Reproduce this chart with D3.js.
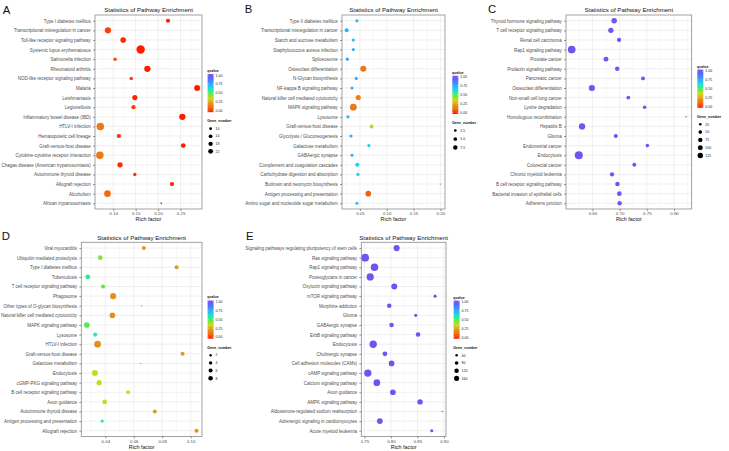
<!DOCTYPE html>
<html><head><meta charset="utf-8">
<script src="https://cdn.jsdelivr.net/npm/d3@7"></script>
<style>body{margin:0;background:#fff;} svg{display:block;font-family:"Liberation Sans",Arial,sans-serif;}</style>
</head><body><svg id="c" width="729" height="451"></svg>
<script>
// ---------------- DATA ----------------
const pathA = ["Type I diabetes mellitus","Transcriptional misregulation in cancer","Toll-like receptor signaling pathway","Systemic lupus erythematosus","Salmonella infection","Rheumatoid arthritis","NOD-like receptor signaling pathway","Malaria","Leishmaniasis","Legionellosis","Inflammatory bowel disease (IBD)","HTLV-I infection","Hematopoietic cell lineage","Graft-versus-host disease","Cytokine-cytokine receptor interaction","Chagas disease (American trypanosomiasis)","Autoimmune thyroid disease","Allograft rejection","Alcoholism","African trypanosomiasis"];
const richA = [0.222,0.088,0.122,0.161,0.104,0.176,0.140,0.287,0.148,0.145,0.254,0.071,0.1125,0.256,0.070,0.115,0.148,0.231,0.087,0.207];
const qA = [0.01,0.06,0.02,0.00,0.08,0.00,0.05,0.00,0.02,0.05,0.00,0.16,0.03,0.01,0.16,0.02,0.04,0.02,0.12,0.05];
const geneA = [10,15,13,23,9,15,9,14,12,10,15,19,10,11,19,12,9,10,16,8];
const ticksA = [0.10,0.15,0.20,0.25];
const sizeBreaksA = [10,14,18,22];

const pathB = ["Type II diabetes mellitus","Transcriptional misregulation in cancer","Starch and sucrose metabolism","Staphylococcus aureus infection","Spliceosome","Osteoclast differentiation","N-Glycan biosynthesis","NF-kappa B signaling pathway","Natural killer cell mediated cytotoxicity","MAPK signaling pathway","Lysosome","Graft-versus-host disease","Glycolysis / Gluconeogenesis","Galactose metabolism","GABAergic synapse","Complement and coagulation cascades","Carbohydrate digestion and absorption","Butirosin and neomycin biosynthesis","Antigen processing and presentation","Amino sugar and nucleotide sugar metabolism"];
const richB = [0.0444,0.0253,0.0377,0.0377,0.0265,0.0563,0.0432,0.0352,0.0469,0.0377,0.0277,0.0717,0.0333,0.0667,0.0352,0.0451,0.0463,0.200,0.0656,0.0445];
const qB = [0.72,0.72,0.70,0.70,0.75,0.16,0.72,0.72,0.18,0.16,0.72,0.40,0.72,0.65,0.70,0.65,0.65,0.90,0.10,0.68];
const geneB = [2,3,2,2,2,7,2,2,5,9,2,3,2,2,2,3,2,1,6,2];
const ticksB = [0.05,0.10,0.15,0.20];
const sizeBreaksB = [2.5,5.0,7.5];

const pathC = ["Thyroid hormone signaling pathway","T cell receptor signaling pathway","Renal cell carcinoma","Rap1 signaling pathway","Prostate cancer","Prolactin signaling pathway","Pancreatic cancer","Osteoclast differentiation","Non-small cell lung cancer","Lysine degradation","Homologous recombination","Hepatitis B","Glioma","Endometrial cancer","Endocytosis","Colorectal cancer","Chronic myeloid leukemia","B cell receptor signaling pathway","Bacterial invasion of epithelial cells","Adherens junction"];
const richC = [0.690,0.684,0.699,0.612,0.675,0.6956,0.743,0.649,0.716,0.746,0.822,0.631,0.693,0.751,0.625,0.727,0.686,0.696,0.6995,0.700];
const qC = [0.98,0.98,0.98,0.98,0.98,0.98,0.98,0.98,0.98,0.98,0.98,0.98,0.98,0.98,0.98,0.98,0.98,0.98,0.98,0.98];
const geneC = [60,55,35,125,45,38,30,75,28,25,12,80,32,25,135,30,35,38,42,38];
const ticksC = [0.65,0.70,0.75,0.80];
const sizeBreaksC = [25,50,75,100,125];

const pathD = ["Viral myocarditis","Ubiquitin mediated proteolysis","Type I diabetes mellitus","Tuberculosis","T cell receptor signaling pathway","Phagosome","Other types of O-glycan biosynthesis","Natural killer cell mediated cytotoxicity","MAPK signaling pathway","Lysosome","HTLV-I infection","Graft-versus-host disease","Galactose metabolism","Endocytosis","cGMP-PKG signaling pathway","B cell receptor signaling pathway","Axon guidance","Autoimmune thyroid disease","Antigen processing and presentation","Allograft rejection"];
const richD = [0.0671,0.0365,0.0901,0.0277,0.0384,0.0455,0.0655,0.045,0.027,0.0329,0.0346,0.0943,0.0648,0.0327,0.0357,0.056,0.0396,0.0748,0.0378,0.1041];
const qD = [0.25,0.45,0.25,0.55,0.48,0.22,0.62,0.22,0.50,0.57,0.22,0.25,0.60,0.38,0.38,0.36,0.38,0.25,0.55,0.23];
const geneD = [3,4,3,4,3,7,1,6,6,3,9,3,1,7,5,3,4,3,2,3];
const ticksD = [0.04,0.06,0.08,0.10];
const sizeBreaksD = [2,4,6,8];

const pathE = ["Signaling pathways regulating pluripotency of stem cells","Ras signaling pathway","Rap1 signaling pathway","Proteoglycans in cancer","Oxytocin signaling pathway","mTOR signaling pathway","Morphine addiction","Glioma","GABAergic synapse","ErbB signaling pathway","Endocytosis","Cholinergic synapse","Cell adhesion molecules (CAMs)","cAMP signaling pathway","Calcium signaling pathway","Axon guidance","AMPK signaling pathway","Aldosterone-regulated sodium reabsorption","Adrenergic signaling in cardiomyocytes","Acute myeloid leukemia"];
const richE = [0.8107,0.7513,0.769,0.7608,0.8063,0.8834,0.7968,0.8468,0.8012,0.8512,0.7665,0.7886,0.8012,0.7563,0.7734,0.8037,0.855,0.8967,0.779,0.8771];
const qE = [0.98,0.98,0.98,0.98,0.98,0.98,0.98,0.98,0.98,0.98,0.98,0.98,0.98,0.98,0.98,0.98,0.98,0.98,0.98,0.98];
const geneE = [105,170,155,145,100,35,60,35,60,60,150,65,90,150,125,90,80,25,95,35];
const ticksE = [0.75,0.80,0.85,0.90];
const sizeBreaksE = [40,80,120,160];

const qBreaks = [1.00,0.75,0.50,0.25,0.00];
const titleText = "Statistics of Pathway Enrichment";

// ---------------- LAYOUT ----------------
const panels = [
  {letter:"A", lx:2.7, ly:14, path:pathA, rich:richA, q:qA, gene:geneA, ticks:ticksA, sb:sizeBreaksA,
   box:{x0:95,x1:202,y0:15,y1:209}, leg:{x:207.3,t:70.7,sp:7.55}, r:[0.9,4.2], rl:[0.7,2.5]},
  {letter:"B", lx:244.8, ly:13.3, path:pathB, rich:richB, q:qB, gene:geneB, ticks:ticksB, sb:sizeBreaksB,
   box:{x0:342,x1:445,y0:15,y1:209}, leg:{x:452,t:72.5,sp:8.5}, r:[0.6,3.4], rl:[0.5,2.4]},
  {letter:"C", lx:488, ly:13.3, path:pathC, rich:richC, q:qC, gene:geneC, ticks:ticksC, sb:sizeBreaksC,
   box:{x0:566,x1:691.7,y0:15,y1:209}, leg:{x:697,t:66.3,sp:7.8}, r:[0.7,4.0], rl:[0.6,2.8]},
  {letter:"D", lx:1.8, ly:239.7, path:pathD, rich:richD, q:qD, gene:geneD, ticks:ticksD, sb:sizeBreaksD,
   box:{x0:81.3,x1:202,y0:242.3,y1:436.5}, leg:{x:207.3,t:297.2,sp:7.7}, r:[0.7,3.4], rl:[0.6,2.4]},
  {letter:"E", lx:246, ly:239.7, path:pathE, rich:richE, q:qE, gene:geneE, ticks:ticksE, sb:sizeBreaksE,
   box:{x0:361.3,x1:446,y0:242.3,y1:436.5}, leg:{x:453.3,t:297.3,sp:7.7}, r:[0.7,3.9], rl:[0.6,2.6]}
];

const qStops = [0,0.12,0.25,0.36,0.48,0.6,0.75,0.9,1];
const qColors = ["#ff1a00","#f26b12","#e39a1c","#d8d81e","#62ea3c","#12ead2","#35a2ff","#5868ff","#7450ee"];
const color = d3.scaleLinear().domain(qStops).range(qColors).clamp(true);

const svg = d3.select("#c");
const defs = svg.append("defs");
const grad = defs.append("linearGradient").attr("id","qgrad").attr("x1",0).attr("y1",1).attr("x2",0).attr("y2",0);
d3.range(0,1.0001,0.05).forEach(v=>grad.append("stop").attr("offset",v).attr("stop-color",color(v)));

const fmt = d3.format(".2f");

panels.forEach((p,pi)=>{
  const b = p.box;
  const g = svg.append("g");
  const ext = d3.extent(p.rich);
  const span = ext[1]-ext[0];
  const x = d3.scaleLinear().domain([ext[0]-0.05*span, ext[1]+0.05*span]).range([b.x0,b.x1]);
  const y = d3.scalePoint().domain(p.path).range([b.y0,b.y1]).padding(0.6);
  const gmin = d3.min(p.gene), gmax = d3.max(p.gene);
  const rs = d3.scalePow().exponent(0.5).domain([0,gmax-gmin]).range(p.r);
  const rl = d3.scalePow().exponent(0.5).domain([0,gmax-gmin]).range(p.rl);

  svg.append("text").attr("x",p.lx).attr("y",p.ly).attr("font-size",11.3).attr("fill","#111").text(p.letter);
  g.append("text").attr("x",(b.x0+b.x1)/2).attr("y",b.y0-2.6).attr("text-anchor","middle")
    .attr("font-size",6.1).attr("fill","#111").text(titleText);

  g.append("rect").attr("x",b.x0).attr("y",b.y0).attr("width",b.x1-b.x0).attr("height",b.y1-b.y0).attr("fill","#fff");
  const step = p.ticks[1]-p.ticks[0];
  const minor = [];
  for (let v = p.ticks[0]-step/2; v <= x.domain()[1]; v += step) if (v >= x.domain()[0]) minor.push(v);
  g.selectAll(".mn").data(minor).join("line").attr("x1",d=>x(d)).attr("x2",d=>x(d)).attr("y1",b.y0).attr("y2",b.y1)
    .attr("stroke","#f3f3f3").attr("stroke-width",0.5);
  g.selectAll(".mj").data(p.ticks).join("line").attr("x1",d=>x(d)).attr("x2",d=>x(d)).attr("y1",b.y0).attr("y2",b.y1)
    .attr("stroke","#e6e6e6").attr("stroke-width",0.6);
  g.selectAll(".hg").data(p.path).join("line").attr("x1",b.x0).attr("x2",b.x1).attr("y1",d=>y(d)).attr("y2",d=>y(d))
    .attr("stroke","#e6e6e6").attr("stroke-width",0.6);

  const data = p.path.map((n,i)=>({n, r:p.rich[i], q:p.q[i], g:p.gene[i]}));
  g.selectAll(".pt").data(data).join("circle")
    .attr("cx",d=>x(d.r)).attr("cy",d=>y(d.n)).attr("r",d=>rs(d.g-gmin)).attr("fill",d=>color(d.q));

  g.append("rect").attr("x",b.x0).attr("y",b.y0).attr("width",b.x1-b.x0).attr("height",b.y1-b.y0)
    .attr("fill","none").attr("stroke","#8c8c8c").attr("stroke-width",0.8);

  const ax = g.append("g").attr("transform",`translate(0,${b.y1})`)
    .call(d3.axisBottom(x).tickValues(p.ticks).tickFormat(fmt).tickSize(2).tickPadding(1.2));
  ax.select(".domain").remove();
  ax.selectAll("line").attr("stroke","#333").attr("stroke-width",0.5);
  ax.selectAll("text").attr("font-size",4.4).attr("fill","#4d4d4d").attr("font-family",null);
  const ay = g.append("g").attr("transform",`translate(${b.x0},0)`)
    .call(d3.axisLeft(y).tickSize(2).tickPadding(2.2));
  ay.select(".domain").remove();
  ay.selectAll("line").attr("stroke","#333").attr("stroke-width",0.5);
  ay.selectAll("text").attr("font-size",4.5).attr("fill","#4d4d4d").attr("font-family",null);

  g.append("text").attr("x",(b.x0+b.x1)/2).attr("y",b.y1+12.4).attr("text-anchor","middle")
    .attr("font-size",5.4).attr("fill","#111").text("Rich factor");

  const L = p.leg;
  g.append("text").attr("x",L.x).attr("y",L.t+1.2).attr("font-size",3.6).attr("font-weight","bold").attr("fill","#111").text("qvalue");
  const barTop = L.t+3.3, barBot = L.t+41.5;
  g.append("rect").attr("x",L.x+0.3).attr("y",barTop).attr("width",6).attr("height",barBot-barTop).attr("fill","url(#qgrad)");
  const qy = d3.scaleLinear().domain([0,1]).range([barBot-1.5,barTop+1.3]);
  qBreaks.forEach(v=>{
    g.append("line").attr("x1",L.x+0.3).attr("x2",L.x+1.5).attr("y1",qy(v)).attr("y2",qy(v)).attr("stroke","#fff").attr("stroke-width",0.4);
    g.append("line").attr("x1",L.x+5.1).attr("x2",L.x+6.3).attr("y1",qy(v)).attr("y2",qy(v)).attr("stroke","#fff").attr("stroke-width",0.4);
    g.append("text").attr("x",L.x+8.3).attr("y",qy(v)+1.2).attr("font-size",3.5).attr("fill","#222").text(fmt(v));
  });
  g.append("text").attr("x",L.x).attr("y",L.t+51.5).attr("font-size",3.6).attr("font-weight","bold").attr("fill","#111").text("Gene_number");
  p.sb.forEach((v,i)=>{
    const cy = L.t+58+i*L.sp;
    g.append("circle").attr("cx",L.x+3.3).attr("cy",cy).attr("r",rl(Math.max(0,v-gmin))).attr("fill","#000");
    g.append("text").attr("x",L.x+8.3).attr("y",cy+1.2).attr("font-size",3.5).attr("fill","#222").text(p.sb[i] % 1 === 0 && p.sb.some(s=>s%1!==0) ? d3.format(".1f")(v) : String(v));
  });
});
</script></body></html>
